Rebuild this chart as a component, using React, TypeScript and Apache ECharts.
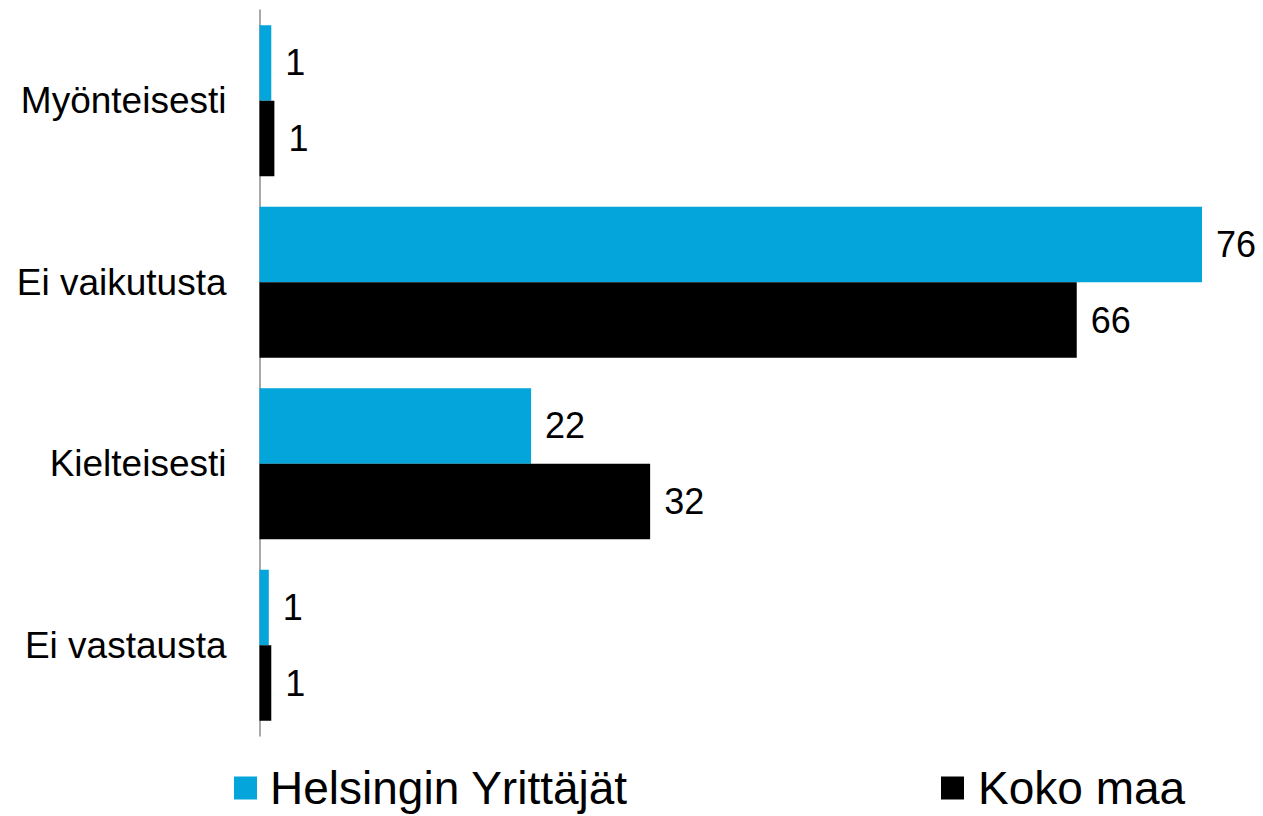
import React, { useEffect, useRef } from "react";
import * as echarts from "echarts";

const categories = ["Myönteisesti", "Ei vaikutusta", "Kielteisesti", "Ei vastausta"];
const seriesNames = ["Helsingin Yrittäjät", "Koko maa"];
const helsinkiValues = [0.95, 76, 21.9, 0.75];
const kokoMaaValues = [1.2, 65.9, 31.5, 0.95];
const colors = ["#03A5DB", "#000000"];

const FONT = "'Liberation Sans', Arial, Helvetica, sans-serif";

export default function App() {
  const ref = useRef<HTMLDivElement>(null);
  useEffect(() => {
    if (!ref.current) return;
    const chart = echarts.init(ref.current, undefined, { renderer: "svg" });
    const label = {
      show: true,
      position: "right",
      distance: 14,
      fontSize: 36,
      fontFamily: FONT,
      color: "#000",
      formatter: (p: any) => String(Math.round(p.value)),
    };
    const legendBase = {
      top: 765,
      padding: 0,
      itemWidth: 23,
      itemHeight: 23,
      icon: "rect",
    };
    chart.setOption({
      animation: false,
      backgroundColor: "#fff",
      textStyle: { fontFamily: FONT },
      grid: { left: 259.5, top: 10, width: 942.5, height: 726, containLabel: false },
      xAxis: {
        type: "value",
        min: 0,
        max: 76,
        show: false,
      },
      yAxis: {
        type: "category",
        data: categories,
        inverse: true,
        axisLine: { show: true, lineStyle: { color: "#8c8c8c", width: 1.5 } },
        axisTick: { show: false },
        axisLabel: { fontSize: 37, fontFamily: FONT, color: "#000", margin: 33 },
        splitLine: { show: false },
      },
      legend: [
        {
          ...legendBase,
          data: [seriesNames[0]],
          left: 234,
          textStyle: { fontSize: 46, fontFamily: FONT, color: "#000", padding: [0, 0, 0, 8] },
        },
        {
          ...legendBase,
          data: [seriesNames[1]],
          left: 941,
          textStyle: { fontSize: 46, fontFamily: FONT, color: "#000", padding: [0, 0, 0, 9] },
        },
      ],
      series: [
        {
          name: seriesNames[0],
          type: "bar",
          data: helsinkiValues,
          itemStyle: { color: colors[0] },
          barGap: "0%",
          barCategoryGap: "16.8%",
          label,
        },
        {
          name: seriesNames[1],
          type: "bar",
          data: kokoMaaValues,
          itemStyle: { color: colors[1] },
          barGap: "0%",
          barCategoryGap: "16.8%",
          label,
        },
      ],
    });
    return () => chart.dispose();
  }, []);
  return (
    <div
      ref={ref}
      style={{ position: "fixed", left: 0, top: 0, width: 1263, height: 816, background: "#fff" }}
    />
  );
}
